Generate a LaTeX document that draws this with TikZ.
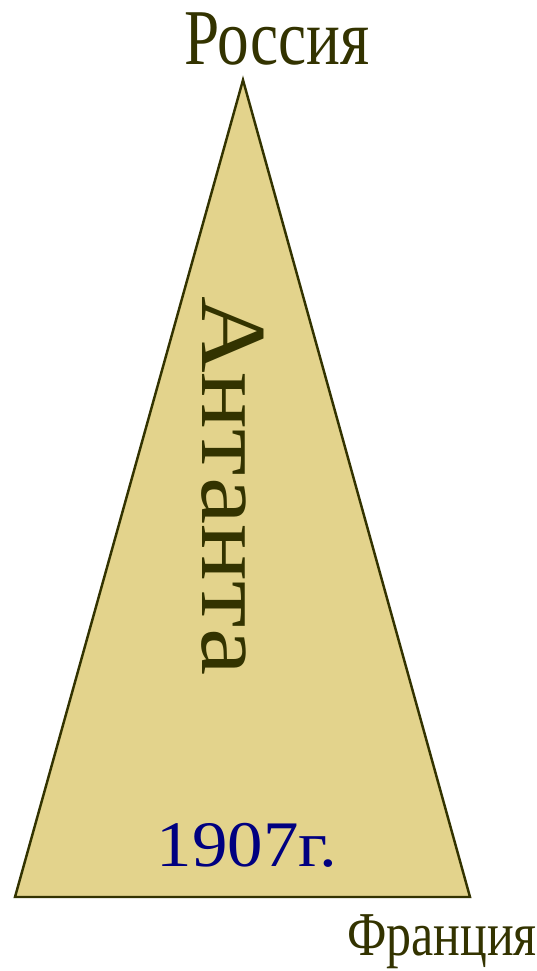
\documentclass[tikz,border=0pt]{standalone}
\usepackage{fontspec}
\setmainfont{Liberation Serif}
\usetikzlibrary{positioning}
\definecolor{olivetext}{HTML}{333300}
\definecolor{sandfill}{HTML}{E3D38C}
\definecolor{yearblue}{HTML}{000080}

\begin{document}
\begin{tikzpicture}[
  x=0.02cm, y=-0.02cm,
  country/.style={text=olivetext, inner sep=0pt, xscale=0.8, font=\fontsize{45}{50}\selectfont},
  bloc/.style={fill=sandfill, draw=olivetext, line width=1.4pt, line join=miter},
  year/.style={text=yearblue, inner sep=0pt, xscale=1.09, font=\fontsize{37}{42}\selectfont}
]
\useasboundingbox (0,0) rectangle (537,971);

\coordinate (top) at (243,80);
\coordinate (left) at (15,897);
\coordinate (right) at (470,897);
\draw[bloc] (top) -- (left) -- (right) -- cycle;

\node[country] (russia) at (277,39) {Россия};
\node[country, font=\fontsize{35.5}{40}\selectfont] (france) at (442,942) {Франция};
\node[text=olivetext, inner sep=0pt, rotate=-90, xscale=1.14, font=\fontsize{53}{58}\selectfont] (entente) at (233,486) {Антанта};
\node[year] (year) at (247,845) {1907г.};
\end{tikzpicture}
\end{document}
